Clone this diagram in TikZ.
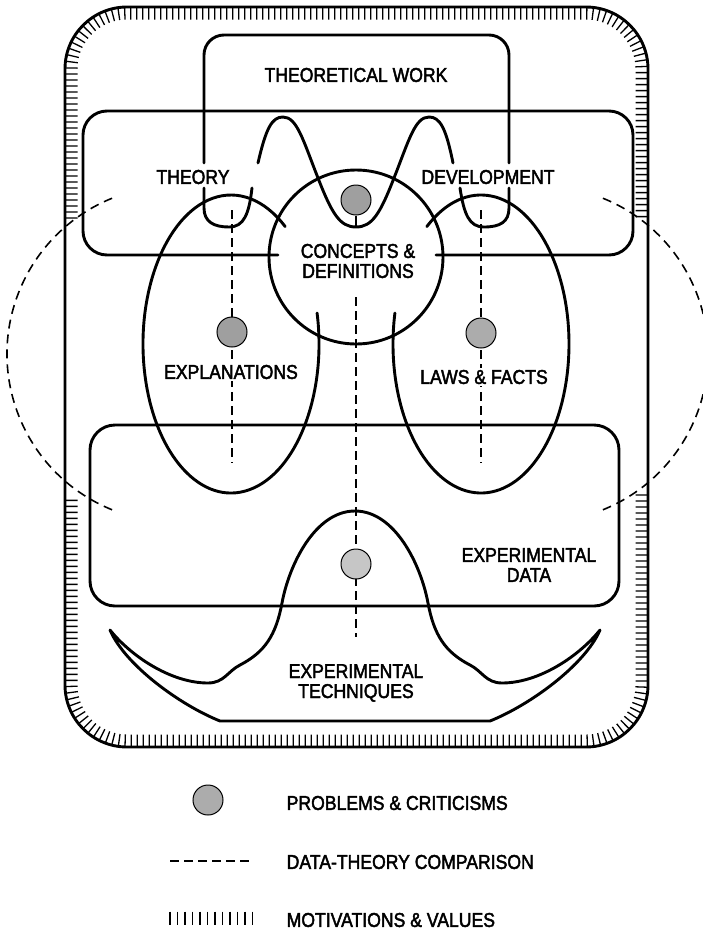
\documentclass[tikz,border=0pt]{standalone}
\usepackage{fontspec}
\setmainfont{Liberation Sans}[FakeStretch=0.88, FakeBold=2.2]
\usetikzlibrary{positioning, calc, decorations.pathreplacing}

\begin{document}
\begin{tikzpicture}[x=1pt, y=-1pt,
	line/.style={draw, line width=2.9pt, line cap=round, line join=round},
	cmp/.style={draw, dash pattern=on 9pt off 5pt, line width=2.2pt},
	cmparc/.style={draw, dash pattern=on 9pt off 6pt, line width=1.6pt},
	motiv/.style={draw, line width=1.3pt, decorate,
		decoration={ticks, segment length=6pt, amplitude=6pt}},
	prob/.style={circle, draw, line width=1pt, fill=gray!75, minimum size=30pt, inner sep=0pt},
	lbl/.style={font=\fontsize{20}{20}\selectfont, align=center, inner sep=1.5pt}]
	
	\useasboundingbox (0,0) rectangle (703,930);
	
	% Motivations & values frame
	\draw[line, rounded corners=62pt] (65,7) rectangle (648,747);
	\draw[motiv, rounded corners=55.5pt] (71.5,218) -- (71.5,13.5) -- (641.5,13.5) -- (641.5,218);
	\draw[motiv, rounded corners=55.5pt] (641.5,495) -- (641.5,740.5) -- (71.5,740.5) -- (71.5,495);
	
	% Data-theory comparison arcs
	\draw[cmparc] ([shift={(175,354)}]112:168) arc[start angle=112, end angle=248, radius=168];
	\draw[cmparc] ([shift={(540,354)}]-68:168) arc[start angle=-68, end angle=68, radius=168];
	
	% Theoretical work
	\draw[line, rounded corners=20pt] (204,163) -- (204,35) -- (509,35) -- (509,163);
	\draw[line] (204,188) -- (204,208) .. controls (204,222) and (214,227) .. (229,227)
		.. controls (244,227) and (249,214) .. (252,188);
	\draw[line] (460,188) .. controls (464,214) and (469,227) .. (484,227)
		.. controls (500,227) and (509,222) .. (509,208) -- (509,188);
	\draw[line] (258,163) .. controls (266,128) and (272,117) .. (283,117)
		.. controls (297,117) and (303,140) .. (318,178)
		.. controls (332,214) and (340,227) .. (356,227)
		.. controls (372,227) and (380,214) .. (394,178)
		.. controls (409,140) and (415,117) .. (429,117)
		.. controls (440,117) and (446,128) .. (453,163);
	
	% Theory development
	\draw[line, rounded corners=24pt] (278,255) -- (83,255) -- (83,111) -- (633,111) -- (633,255) -- (436,255);
	
	% Concepts & definitions
	\node[line, circle, minimum size=174pt] (cdcirc) at (356,257) {};
	
	% Explanations, laws & facts
	\draw[line] ([shift={(231,344)}]-12:88 and 149) arc[start angle=-12, end angle=308, x radius=88, y radius=149];
	\draw[line] ([shift={(481,344)}]232:88 and 149) arc[start angle=232, end angle=552, x radius=88, y radius=149];
	
	% Experimental data
	\draw[line, rounded corners=25pt] (90,425) rectangle (619,606);
	
	% Experimental techniques
	\draw[line] (355,511) .. controls (395,511) and (421,565) .. (428,603)
		.. controls (434,635) and (445,652) .. (470,665)
		.. controls (482,671) and (486,683) .. (502,683)
		.. controls (540,683) and (580,655) .. (600,630)
		.. controls (585,665) and (530,705) .. (490,721)
		-- (220,721)
		.. controls (180,705) and (125,665) .. (110,630)
		.. controls (130,655) and (170,683) .. (208,683)
		.. controls (224,683) and (228,671) .. (240,665)
		.. controls (265,652) and (276,635) .. (282,603)
		.. controls (289,565) and (315,511) .. cycle;
	
	% Comparison lines
	\coordinate (et) at (232,210);
	\coordinate (eb) at (232,463);
	\coordinate (lt) at (481,210);
	\coordinate (lb) at (481,463);
	\coordinate (mb) at (356,226);
	\coordinate (ct) at (356,297);
	\coordinate (cb) at (356,637);
	\draw[cmp] (et) -- (eb);
	\draw[cmp] (lt) -- (lb);
	\draw[cmp] (ct) -- (cb);
	
	% Problems & criticisms
	\node[prob] (pth) at (356,200) {};
	\draw[line width=2.2pt] (pth.south) -- (mb);
	\node[prob] (pex) at (232,332) {};
	\node[prob, fill=gray!65] (plf) at (481,333) {};
	\node[prob, fill=gray!45] (ped) at (356,564) {};
	
	% Labels
	\node[lbl] (twork) at (356,75) {THEORETICAL WORK};
	\node[lbl] (theory) at (193,177) {THEORY};
	\node[lbl] (devel) at (488,177) {DEVELOPMENT};
	\node[lbl, fill=white] (concepts) at (358,261) {CONCEPTS \&\\DEFINITIONS};
	\node[lbl, fill=white] (expl) at (231,372) {EXPLANATIONS};
	\node[lbl, fill=white] (laws) at (484,377) {LAWS \& FACTS};
	\node[lbl] (edata) at (529,565) {EXPERIMENTAL\\DATA};
	\node[lbl] (etech) at (356,683) {EXPERIMENTAL\\TECHNIQUES};
	
	% Legend
	\node[prob, fill=gray!65] (lgprob) at (208,800) {};
	\node[lbl, anchor=west] (lgprobt) at (285,803) {PROBLEMS \& CRITICISMS};
	\coordinate (lgca) at (170,861);
	\coordinate (lgcb) at (249,861);
	\draw[cmp] (lgca) -- (lgcb);
	\node[lbl, anchor=west] (lgcmpt) at (285,862) {DATA-THEORY COMPARISON};
	\coordinate (lgma) at (170,918);
	\coordinate (lgmb) at (256,918);
	\draw[motiv, decoration={segment length=7.5pt, amplitude=6.5pt}] (lgma) -- (lgmb);
	\node[lbl, anchor=west] (lgmott) at (285,920) {MOTIVATIONS \& VALUES};
\end{tikzpicture}
\end{document}
